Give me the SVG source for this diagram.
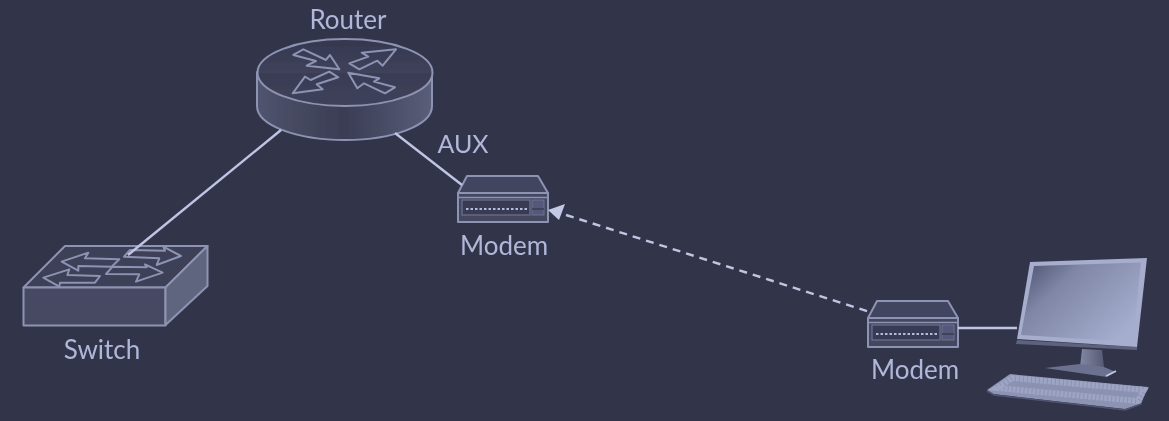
<svg xmlns="http://www.w3.org/2000/svg" xmlns:xlink="http://www.w3.org/1999/xlink" width="1169" height="421" viewBox="0 0 1169 421">
<style>
text{font-family:"Lato","Open Sans","Liberation Sans",sans-serif;font-size:26px;fill:#b0b7d8;text-anchor:middle}
.o{stroke:#8d93b2;stroke-width:2;fill:none;stroke-linejoin:round}
.w{stroke:#bfc5e3;stroke-width:2.400;fill:none}
.a{stroke:#8d93b2;stroke-width:6;fill:none;stroke-linejoin:round}
.b{filter:url(#soft)}
</style>
<defs>
<filter id="soft" x="-5%" y="-5%" width="110%" height="110%"><feGaussianBlur stdDeviation="0.6"/></filter>
<linearGradient id="rb" x1="0" x2="1" y1="0" y2="0"><stop offset="0" stop-color="#50546f"/><stop offset=".25" stop-color="#45485f"/><stop offset=".5" stop-color="#3a3d54"/><stop offset="1" stop-color="#5a5e7a"/></linearGradient>
<linearGradient id="rt" x1="0" x2="0" y1="0" y2="1"><stop offset="0" stop-color="#34374e"/><stop offset=".5" stop-color="#3f425a"/><stop offset=".52" stop-color="#393c54"/><stop offset="1" stop-color="#3f425a"/></linearGradient>
<linearGradient id="scr" x1="0" x2="1" y1="0" y2=".7"><stop offset="0" stop-color="#4a4e6c"/><stop offset=".35" stop-color="#7f86a6"/><stop offset="1" stop-color="#a6aecf"/></linearGradient>
<linearGradient id="neck" x1="0" x2="1" y1="0" y2="0"><stop offset="0" stop-color="#8187a3"/><stop offset="1" stop-color="#565a74"/></linearGradient>
<g id="modem">
<path class="o" style="fill:#42455e" d="M458 193L467 176H538L548 193Z"/>
<rect class="o" style="fill:#44475f" x="458" y="193" width="90" height="29"/>
<path class="o" style="stroke-width:1.500" d="M458 197.500H548"/>
<rect style="fill:#383b52;stroke:#6e7391;stroke-width:1.200" x="462" y="200" width="68" height="15"/>
<path d="M466 209H529" stroke="#b4bbdb" stroke-width="2" stroke-dasharray="2.500 2" fill="none"/>
<rect style="fill:#54587a;stroke:#6e7391;stroke-width:1" x="532" y="200" width="12" height="15"/>
<path style="stroke:#383b52;stroke-width:1.500" d="M532 209H544"/>
</g>
</defs>
<rect width="1169" height="421" fill="#32344a"/>
<g id="router" class="b">
<path class="o" style="fill:url(#rb)" d="M257 72V106C257 125 296 140 345 140S432 125 432 106V72Z"/>
<ellipse class="o" style="fill:url(#rt)" cx="345" cy="72.500" rx="87.500" ry="33.500"/>
<g transform="translate(240,0) scale(.3333)">
<polygon class="a" points="160,165 190,148 258,180 270,165 298,208 200,197 228,183"/>
<polygon class="a" points="328,190 385,170 365,158 468,148 428,197 412,182 358,208"/>
<polygon class="a" points="295,232 268,215 212,240 195,230 158,280 248,268 230,253"/>
<polygon class="a" points="325,218 418,235 402,245 465,262 435,280 372,250 352,265"/>
</g>
<text x="348" y="29">Router</text>
</g>
<g id="switch" class="b">
<path class="o" style="fill:#3c3f56" d="M23.500 287.500L65 246H207.500L165.500 287.500Z"/>
<rect class="o" style="fill:#474a63" x="23.500" y="287.500" width="142" height="38"/>
<path class="o" style="fill:#61657f" d="M165.500 287.500L207.500 246V286L165.500 325Z"/>
<g transform="translate(10,230) scale(.3333)">
<polygon class="a" points="155,95 235,68 225,85 328,88 305,110 205,108 205,122"/>
<polygon class="a" points="100,143 178,118 172,135 270,138 255,158 150,158 148,170"/>
<polygon class="a" points="342,80 360,60 465,62 460,50 513,78 440,105 448,85"/>
<polygon class="a" points="288,132 308,110 410,112 405,103 458,128 378,155 388,133"/>
</g>
<text x="102" y="359">Switch</text>
</g>
<g id="modem-1" class="b">
<use xlink:href="#modem" href="#modem"/>
<text x="504" y="255">Modem</text>
</g>
<text x="463" y="153" class="b" id="aux" style="font-size:25px">AUX</text>
<g id="modem-2" class="b">
<use xlink:href="#modem" href="#modem" transform="translate(410,125)"/>
<text x="915" y="379">Modem</text>
</g>
<g id="computer" class="b">
<path d="M1082 349L1102 350L1104 367L1080 367Z" style="fill:url(#neck)"/>
<path fill="#6c7190" d="M1045 368L1080 364L1104 367L1116 372L1107 377Z"/>
<path d="M1106 376L1116 371" stroke="#c2c8e6" stroke-width="1.500"/>
<path fill="#5e627f" d="M1017 340L1137 347L1137 350L1016 344Z"/>
<path fill="#a6adcd" d="M1030 262L1147 258L1137 347L1017 339Z"/>
<path fill="url(#scr)" d="M1034 266L1141 262.500L1133 342L1021 335Z"/>
<path fill="#8d93b3" d="M987 390L1010 374L1148 387L1141 404L1125 409L993 394Z"/>
<path d="M1012 378L1144 390L1138 401L997 388Z" fill="#8b91b1" stroke="#9ea5c4" stroke-width="6" stroke-dasharray="3 1"/>
<path d="M987 391L994 395L1125 410L1141 404" stroke="#50546f" stroke-width="1.500" fill="none"/>
</g>
<g id="connectors" class="b">
<path class="w" d="M281 130L128 255"/>
<path class="w" d="M395 133L462 185"/>
<path class="w" d="M958 328H1017"/>
<path class="w" d="M566 215L870 312" stroke-dasharray="8 6"/>
<path fill="#c2c8e6" d="M548 210L565 204L559 220Z"/>
</g>
</svg>
